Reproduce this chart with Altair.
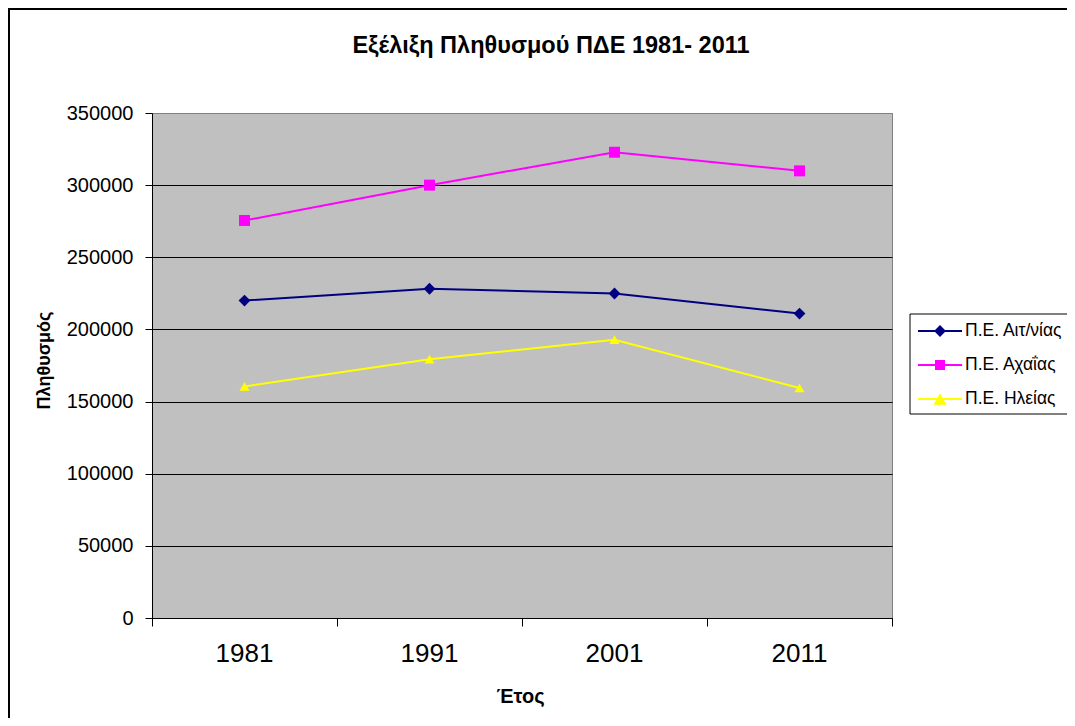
import altair as alt
import pandas as pd

years = ["1981", "1991", "2001", "2011"]
series = ["Π.Ε. Αιτ/νίας", "Π.Ε. Αχαΐας", "Π.Ε. Ηλείας"]
aitnias = [220000, 228200, 224900, 211000]
achaias = [275500, 300000, 322800, 309900]
ilias = [160500, 179400, 192900, 159400]
colors = ["#000080", "#FF00FF", "#FFFF00"]
shapes = ["diamond", "square", "triangle-up"]
sizes = [140, 100, 170]
y_ticks = [0, 50000, 100000, 150000, 200000, 250000, 300000, 350000]

title_text = "Εξέλιξη Πληθυσμού ΠΔΕ 1981- 2011"
x_title = "Έτος"
y_title = "Πληθυσμός"

FONT = "Liberation Sans"

rows = []
for name, vals in zip(series, [aitnias, achaias, ilias]):
    for yr, v in zip(years, vals):
        rows.append({"year": yr, "series": name, "value": v})
df = pd.DataFrame(rows)

W, H = 740, 505
PAD_L, PAD_T = 144, 105
TOTAL_W, TOTAL_H = 1059, 710

one = pd.DataFrame({"a": [0]})

frame = alt.Chart(one).mark_rect(fill=None, stroke="black", strokeWidth=2).encode(
    x=alt.value(1 - PAD_L), x2=alt.value(TOTAL_W - PAD_L + 10),
    y=alt.value(1 - PAD_T), y2=alt.value(TOTAL_H - PAD_T + 10),
)

x_enc = alt.X(
    "year:O",
    sort=years,
    scale=alt.Scale(type="band", paddingInner=0, paddingOuter=0),
    axis=alt.Axis(
        title=x_title, labelAngle=0, labelFontSize=26, labelColor="black",
        labelPadding=14, tickSize=8, tickColor="black", domainColor="black",
        bandPosition=1, tickExtra=True, grid=False,
        titleFontSize=20, titleFontWeight="bold", titleColor="black",
        titleX=368, titleY=78, titleBaseline="middle", titleAlign="center",
    ),
)
y_enc = alt.Y(
    "value:Q",
    scale=alt.Scale(domain=[0, 350000], nice=False),
    axis=alt.Axis(
        title=y_title, values=y_ticks, format="d", labelFontSize=20,
        labelColor="black", labelPadding=12, tickSize=7, tickColor="black",
        domainColor="black", grid=True,
        gridColor=alt.condition("datum.value === 350000", alt.value("#808080"), alt.value("black")),
        gridOpacity=1, gridWidth=1,
        titleFontSize=18, titleFontWeight="bold", titleColor="black",
        titleX=-108, titleY=247, titleAngle=-90, titleBaseline="middle", titleAlign="center",
    ),
)
color_enc = alt.Color("series:N", scale=alt.Scale(domain=series, range=colors), legend=None)
shape_enc = alt.Shape("series:N", scale=alt.Scale(domain=series, range=shapes), legend=None)
size_enc = alt.Size("series:N", scale=alt.Scale(domain=series, range=sizes), legend=None)

lines = alt.Chart(df).mark_line(strokeWidth=2).encode(
    x=x_enc, y=y_enc, color=color_enc, detail="series:N"
)
points = alt.Chart(df).mark_point(filled=True, opacity=1, strokeWidth=0).encode(
    x=alt.X("year:O", sort=years), y="value:Q", color=color_enc, shape=shape_enc, size=size_enc
)

title = alt.Chart(one).mark_text(
    text=title_text, font=FONT, fontSize=23.5, fontWeight="bold", color="black",
    align="center", baseline="alphabetic"
).encode(x=alt.value(551 - PAD_L - 8), y=alt.value(53 - PAD_T - 8))

# legend box and entries
lx0, ly0 = 910 - PAD_L - 8, 314 - PAD_T - 8
legend_box = alt.Chart(one).mark_rect(fill="white", stroke="black", strokeWidth=1).encode(
    x=alt.value(lx0), x2=alt.value(TOTAL_W - PAD_L + 10),
    y=alt.value(ly0), y2=alt.value(ly0 + 100),
)
legend_layers = [legend_box]
for i, name in enumerate(series):
    ry = ly0 + 17 + 34 * i
    ldf = pd.DataFrame({"series": [name]})
    legend_layers.append(
        alt.Chart(ldf).mark_rule(color=colors[i], strokeWidth=2).encode(
            x=alt.value(lx0 + 8), x2=alt.value(lx0 + 52), y=alt.value(ry)
        )
    )
    legend_layers.append(
        alt.Chart(ldf).mark_point(filled=True, opacity=1, strokeWidth=0, color=colors[i],
                                  shape=shapes[i], size=sizes[i]).encode(
            x=alt.value(lx0 + 30), y=alt.value(ry)
        )
    )
    legend_layers.append(
        alt.Chart(ldf).mark_text(font=FONT, fontSize=17.5, color="black", align="left",
                                 baseline="middle").encode(
            x=alt.value(lx0 + 55), y=alt.value(ry), text="series:N"
        )
    )

chart = alt.layer(frame, lines, points, title, *legend_layers).properties(
    width=W, height=H,
    autosize=alt.AutoSizeParams(type="none"),
    padding={"left": PAD_L, "top": PAD_T, "right": TOTAL_W - PAD_L - W, "bottom": TOTAL_H - PAD_T - H},
    background="white",
).configure(font=FONT).configure_view(
    fill="#C0C0C0", stroke="#808080", strokeWidth=1
).configure_axis(labelFont=FONT, titleFont=FONT)

chart.save("out.html", embed_options={"renderer": "svg", "actions": False})
